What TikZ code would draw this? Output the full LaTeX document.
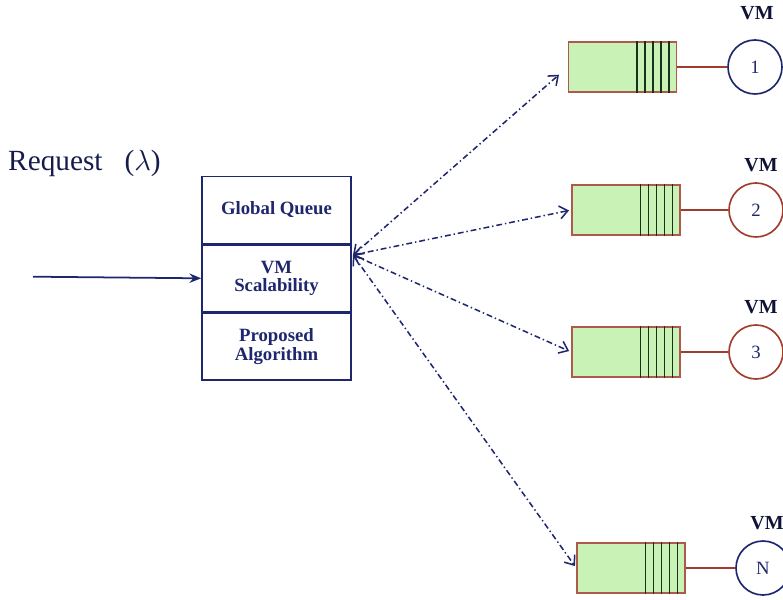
\documentclass[tikz,border=0pt]{standalone}
\usepackage{fontspec}
\setmainfont{Liberation Serif}
\usepackage{tikz}
\usetikzlibrary{arrows,arrows.meta,positioning}

\definecolor{navy}{RGB}{30,38,110}
\definecolor{brick}{RGB}{160,60,45}
\definecolor{qfill}{RGB}{200,242,182}
\definecolor{stripecol}{RGB}{25,50,25}

\begin{document}
\begin{tikzpicture}
		[x=0.03cm, y=-0.03cm, inner sep=0pt,
		layer/.style	= {rectangle,draw=navy,line width=1.4pt,minimum width=4.47cm,minimum height=2cm,align=center,text=navy,font=\bfseries\fontsize{16}{16}\selectfont},
		queue/.style	= {rectangle,draw=brick!85,fill=qfill,line width=1.2pt,minimum width=3.24cm,minimum height=1.5cm},
		server/.style	= {circle,draw,line width=1.4pt,minimum size=1.62cm,text=navy,font=\fontsize{16}{16}\selectfont},
		vmlabel/.style	= {text=navy!50!black,font=\bfseries\fontsize{17}{17}\selectfont},
		link/.style		= {draw=brick, line width=1.1pt},
		stripe/.style	= {draw=stripecol, line width=1.3pt},
		paths/.style	= {<->, >={Straight Barb[length=7pt,width=11pt,line width=1.3pt]}, navy, line width=1.3pt, dash pattern=on 5pt off 2.5pt on 1.2pt off 2.5pt, shorten >= 2pt},
		input/.style	= {->, >={Stealth[length=10pt,width=8pt]}, navy, line width=1.5pt}]
		
		\useasboundingbox (0,0) rectangle (783,600);
		
		\node at (8, 163)		[anchor=west, text=navy!70!black, font=\fontsize{25}{25}\selectfont]	(req)	{Request\ \ \ ($\lambda$)};
		
		\node at (276.5, 210)	[layer]		(gq)	{Global Queue};
		\node [layer, below=0pt of gq]		(scal)	{VM\\Scalability};
		\node [layer, below=0pt of scal]	(algo)	{Proposed\\Algorithm};
		\draw [navy, line width=2.8pt] (gq.south west) -- (gq.south east);
		
		\node at (622.5, 67)	[queue]		(q1)	{};
		\node at (626, 210)		[queue]		(q2)	{};
		\node at (626, 352)		[queue]		(q3)	{};
		\node at (631, 568)		[queue]		(qN)	{};
		
		\foreach \q in {q1,q2,q3,qN}
			\foreach \d in {0.24,0.48,0.72,0.96,1.2}
				\draw [stripe] ([xshift=-\d cm]\q.north east) -- ([xshift=-\d cm]\q.south east);
		
		\node at (755, 67)		[server, draw=navy]		(vm1)	{1};
		\node at (756, 210)		[server, draw=brick]	(vm2)	{2};
		\node at (756, 352)		[server, draw=brick]	(vm3)	{3};
		\node at (763, 568)		[server, draw=navy]		(vmN)	{N};
		
		\node at (757, 13)		[vmlabel]	(l1)	{VM};
		\node at (761, 165)		[vmlabel]	(l2)	{VM};
		\node at (761, 307)		[vmlabel]	(l3)	{VM};
		\node at (767, 523)		[vmlabel]	(lN)	{VM};
		
		\draw [link] (q1.east) -- (vm1.west);
		\draw [link] (q2.east) -- (vm2.west);
		\draw [link] (q3.east) -- (vm3.west);
		\draw [link] (qN.east) -- (vmN.west);
		
		\coordinate (src) at (33, 276.7);
		\coordinate (hub) at (353, 255);
		
		\draw [input] (src) -- (scal.west);
		
		\draw [paths, shorten >= 10pt] (hub) -- (q1.west);
		\draw [paths] (hub) -- (q2.west);
		\draw [paths] (hub) -- (q3.west);
		\draw [paths] (hub) -- (qN.west);
		
\end{tikzpicture}
\end{document}
